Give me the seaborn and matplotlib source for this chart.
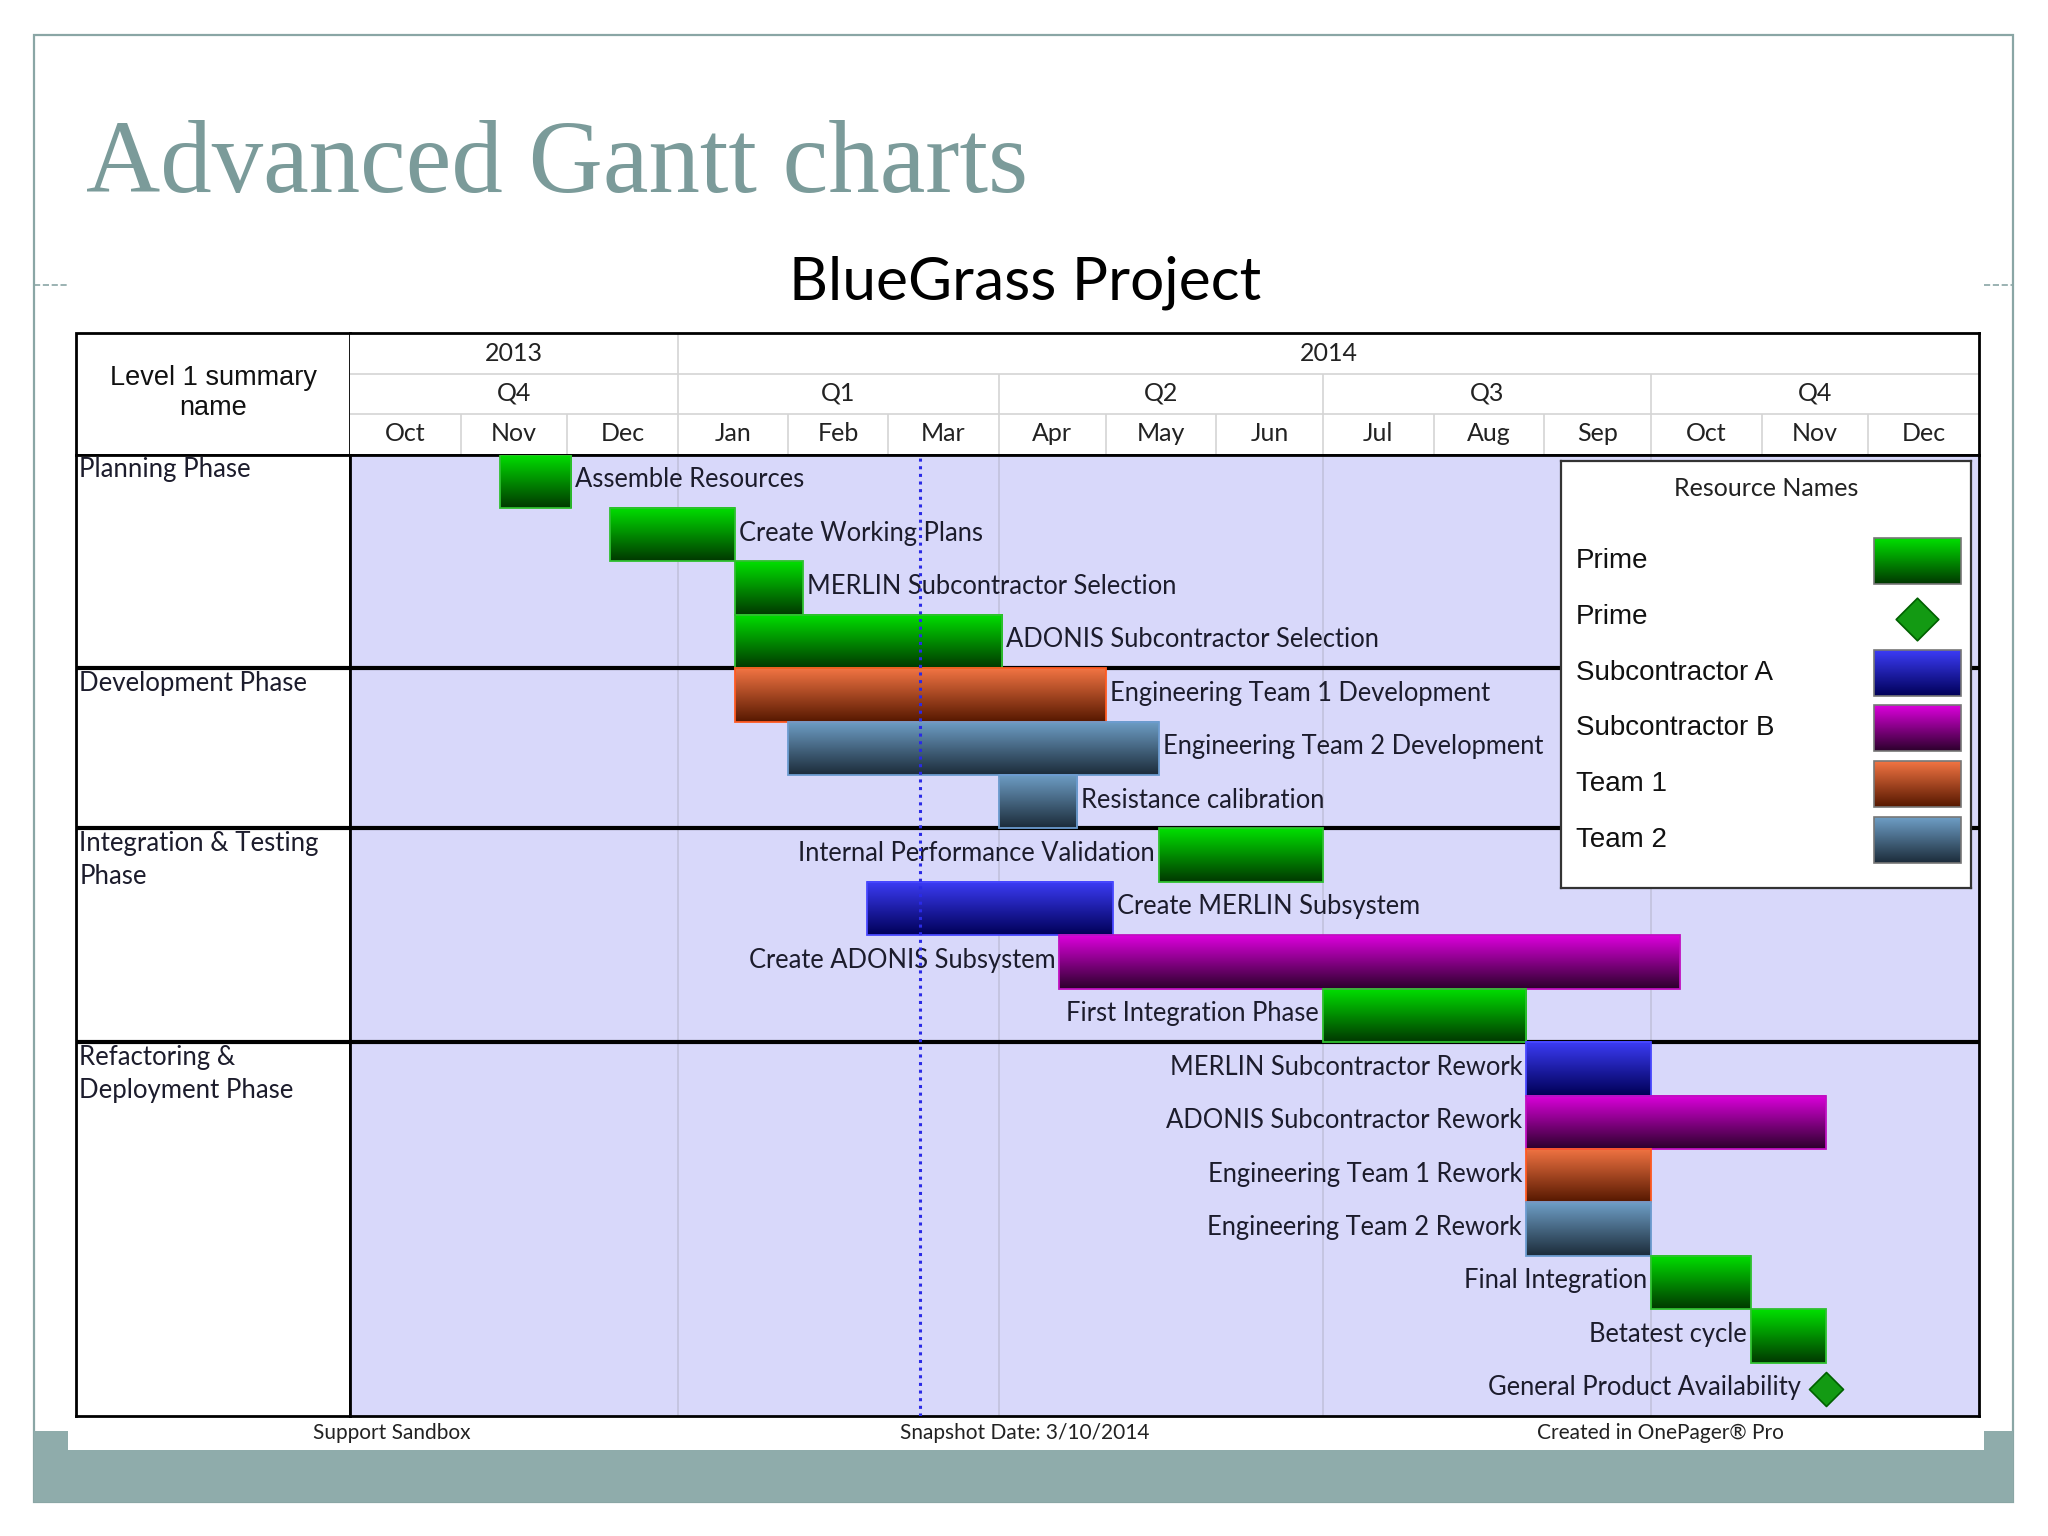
import numpy as np
import pandas as pd
import matplotlib
matplotlib.use("Agg")
import matplotlib.pyplot as plt
import matplotlib.dates as mdates
from matplotlib.colors import LinearSegmentedColormap
from matplotlib.patches import Rectangle
import seaborn as sns

# ---- chart data ----
tasks = [
    "Assemble Resources", "Create Working Plans", "MERLIN Subcontractor Selection",
    "ADONIS Subcontractor Selection", "Engineering Team 1 Development",
    "Engineering Team 2 Development", "Resistance calibration",
    "Internal Performance Validation", "Create MERLIN Subsystem", "Create ADONIS Subsystem",
    "First Integration Phase", "MERLIN Subcontractor Rework", "ADONIS Subcontractor Rework",
    "Engineering Team 1 Rework", "Engineering Team 2 Rework", "Final Integration",
    "Betatest cycle", "General Product Availability",
]
task_start = [
    "2013-11-12", "2013-12-13", "2014-01-17", "2014-01-17", "2014-01-17", "2014-02-01",
    "2014-04-01", "2014-05-16", "2014-02-23", "2014-04-18", "2014-07-01", "2014-08-27",
    "2014-08-27", "2014-08-27", "2014-08-27", "2014-10-01", "2014-10-29", "2014-11-19",
]
task_end = [
    "2013-12-02", "2014-01-17", "2014-02-05", "2014-04-02", "2014-05-01", "2014-05-16",
    "2014-04-23", "2014-07-01", "2014-05-03", "2014-10-09", "2014-08-27", "2014-10-01",
    "2014-11-19", "2014-10-01", "2014-10-01", "2014-10-29", "2014-11-19", "2014-11-19",
]
task_resource = [
    "Prime", "Prime", "Prime", "Prime", "Team 1", "Team 2", "Team 2", "Prime",
    "Subcontractor A", "Subcontractor B", "Prime", "Subcontractor A", "Subcontractor B",
    "Team 1", "Team 2", "Prime", "Prime", "Prime",
]
task_kind = ["bar"] * 17 + ["milestone"]
label_side = ["right"] * 7 + ["left", "right"] + ["left"] * 9

phases = ["Planning Phase", "Development Phase", "Integration & Testing\nPhase",
          "Refactoring &\nDeployment Phase"]
phase_first_row = [0, 4, 7, 11]

legend_names = ["Prime", "Prime", "Subcontractor A", "Subcontractor B", "Team 1", "Team 2"]
legend_marks = ["bar", "milestone", "bar", "bar", "bar", "bar"]

month_labels = ["Oct", "Nov", "Dec", "Jan", "Feb", "Mar", "Apr", "May", "Jun",
                "Jul", "Aug", "Sep", "Oct", "Nov", "Dec"]
quarter_labels = ["Q4", "Q1", "Q2", "Q3", "Q4"]
quarter_starts = ["2013-10-01", "2014-01-01", "2014-04-01", "2014-07-01", "2014-10-01"]
year_labels = ["2013", "2014"]
year_starts = ["2013-10-01", "2014-01-01"]
timeline_start = "2013-10-01"
timeline_end = "2015-01-01"
snapshot_date = "2014-03-10"

# ---- styling ----
sns.set_style("white")
plt.rcParams["font.family"] = ["Lato", "DejaVu Sans"]

# top colour, bottom colour, outline
resource_style = {
    "Prime": ("#00e000", "#003800", "#2fc02f"),
    "Subcontractor A": ("#3c3cf6", "#000058", "#4848ff"),
    "Subcontractor B": ("#dc00dc", "#2c002c", "#c010c0"),
    "Team 1": ("#f27443", "#561800", "#ff5a22"),
    "Team 2": ("#6e9ec6", "#1c2c3a", "#6c9cd0"),
}
milestone_colors = ("#139a13", "#006000")
text_col = "#1c1c2c"

W, H = 2048, 1536


def box(x0, y0, x1, y1):
    return [x0 / W, 1 - y1 / H, (x1 - x0) / W, (y1 - y0) / H]


def grad_fill(ax, x0, x1, y_top, y_bot, top, bot, z=3):
    cmap = LinearSegmentedColormap.from_list("g", [top, bot])
    g = np.linspace(0, 1, 128).reshape(-1, 1)
    ax.imshow(g, cmap=cmap, extent=(x0, x1, y_bot, y_top), origin="upper",
              aspect="auto", interpolation="bilinear", zorder=z)


fig = plt.figure(figsize=(20.48, 15.36), dpi=100)

# ---- slide background ----
bg = fig.add_axes([0, 0, 1, 1])
bg.set_xlim(0, W)
bg.set_ylim(H, 0)
bg.axis("off")
bg.add_patch(Rectangle((34, 35), 1979, 1467, fill=False, edgecolor="#8aa6a5", lw=1.6))
bg.add_patch(Rectangle((34, 1431), 1979, 71, facecolor="#8facab", edgecolor="none"))
bg.add_patch(Rectangle((68, 1410), 1916, 40, facecolor="white", edgecolor="none"))
bg.plot([34, 68], [285, 285], ls="--", color="#8aa6a5", lw=1.2)
bg.plot([1984, 2013], [285, 285], ls="--", color="#8aa6a5", lw=1.2)
bg.text(86, 192, "Advanced Gantt charts", family="Liberation Serif", fontsize=74,
        color="#7b9b9a", va="baseline", ha="left")
bg.text(1025, 299, "BlueGrass Project", fontsize=43.5, color="black", va="baseline",
        ha="center")
for txt, xc in zip(["Support Sandbox", "Snapshot Date: 3/10/2014", "Created in OnePager® Pro"],
                   [392, 1025, 1660]):
    bg.text(xc, 1433, txt, fontsize=15, color="#222222", ha="center", va="center")

# header corner cell
bg.add_patch(Rectangle((76, 333), 274, 121.5, facecolor="white", edgecolor="black", lw=2))
bg.text(213, 393, "Level 1 summary\nname", family="Liberation Sans", fontsize=19.5,
        ha="center", va="center", color="#111111", linespacing=1.2)

x_lo = mdates.datestr2num(timeline_start)
x_hi = mdates.datestr2num(timeline_end)
month_starts = pd.date_range(timeline_start, timeline_end, freq="MS")
month_nums = mdates.date2num(month_starts)
q_nums = list(mdates.datestr2num(quarter_starts)) + [x_hi]
y_nums = list(mdates.datestr2num(year_starts)) + [x_hi]

# ---- timeline header ----
hd = fig.add_axes(box(350, 333, 1979, 454.5))
hd.set_xlim(x_lo, x_hi)
hd.set_ylim(3, 0)
hd.set_xticks([])
hd.set_yticks([])
grid_c = "#d4d4d4"
hd.hlines([1, 2], x_lo, x_hi, color=grid_c, lw=1.2)
hd.vlines(month_nums[1:-1], 2, 3, color=grid_c, lw=1.2)
hd.vlines(q_nums[1:-1], 1, 2, color=grid_c, lw=1.2)
hd.vlines(y_nums[1:-1], 0, 1, color=grid_c, lw=1.2)
for i, lab in enumerate(month_labels):
    hd.text((month_nums[i] + month_nums[i + 1]) / 2, 2.47, lab, ha="center", va="center",
            fontsize=18, color="#222222")
for i, lab in enumerate(quarter_labels):
    hd.text((q_nums[i] + q_nums[i + 1]) / 2, 1.47, lab, ha="center", va="center",
            fontsize=18, color="#222222")
for i, lab in enumerate(year_labels):
    hd.text((y_nums[i] + y_nums[i + 1]) / 2, 0.5, lab, ha="center", va="center",
            fontsize=18, color="#222222")
for s in hd.spines.values():
    s.set_color("black")
    s.set_linewidth(2)
hd.spines["left"].set_visible(False)

# ---- left summary column ----
n_rows = len(tasks)
lc = fig.add_axes(box(76, 454.5, 350, 1416))
lc.set_xlim(0, 1)
lc.set_ylim(n_rows, 0)
lc.set_xticks([])
lc.set_yticks([])
lc.set_facecolor("white")
for name, r in zip(phases, phase_first_row):
    lc.text(0.012, r + 0.05, name, ha="left", va="top", fontsize=18.5, color=text_col,
            linespacing=1.42)
for r in phase_first_row[1:]:
    lc.axhline(r, color="black", lw=3)
for s in lc.spines.values():
    s.set_color("black")
    s.set_linewidth(2)

# ---- gantt body ----
ax = fig.add_axes(box(350, 454.5, 1979, 1416))
ax.set_facecolor("#d8d8fa")
ax.vlines(q_nums[1:-1], 0, n_rows, color="#c2c2dc", lw=1.2, zorder=1)
for r in phase_first_row[1:]:
    ax.axhline(r, color="black", lw=3, zorder=2)

starts = mdates.datestr2num(task_start)
ends = mdates.datestr2num(task_end)
gantt = pd.DataFrame({"task": tasks, "start": starts, "end": ends, "res": task_resource,
                      "kind": task_kind, "side": label_side, "row": np.arange(n_rows) + 0.5})

bars = gantt[gantt["kind"] == "bar"]
for _, t in bars.iterrows():
    top, bot, edge = resource_style[t["res"]]
    grad_fill(ax, t["start"], t["end"], t["row"] - 0.5, t["row"] + 0.5, top, bot)
    ax.barh(t["row"], t["end"] - t["start"], left=t["start"], height=1.0, fill=False,
            edgecolor=edge, lw=1.3, zorder=4)

ms = gantt[gantt["kind"] == "milestone"]
sns.scatterplot(data=ms, x="start", y="row", marker="D", s=300, color=milestone_colors[0],
                edgecolor=milestone_colors[1], linewidth=1.2, zorder=6, ax=ax, legend=False)

for _, t in gantt.iterrows():
    if t["kind"] == "milestone":
        x, off, ha = t["start"], -18, "right"
    elif t["side"] == "right":
        x, off, ha = t["end"], 3, "left"
    else:
        x, off, ha = t["start"], -3, "right"
    ax.annotate(t["task"], (x, t["row"] - 0.03), xytext=(off, 0), textcoords="offset points",
                ha=ha, va="center", fontsize=18.4, color=text_col, zorder=7)

ax.axvline(mdates.datestr2num(snapshot_date), color="#2a2ae6", ls=(0, (1, 1.5)), lw=2.2,
           zorder=8)
ax.set_xlim(x_lo, x_hi)
ax.set_ylim(n_rows, 0)
ax.set_xticks([])
ax.set_yticks([])
ax.set_xlabel("")
ax.set_ylabel("")
for s in ax.spines.values():
    s.set_color("black")
    s.set_linewidth(2)

# ---- legend box ----
lg = fig.add_axes(box(1561, 461, 1971, 888))
lg.set_xlim(0, 410)
lg.set_ylim(427, 0)
lg.set_xticks([])
lg.set_yticks([])
lg.set_facecolor("white")
for s in lg.spines.values():
    s.set_color("#333333")
    s.set_linewidth(1.6)
lg.text(205, 28, "Resource Names", ha="center", va="center", fontsize=18, color="#222222")
for i, (name, mark) in enumerate(zip(legend_names, legend_marks)):
    yc = 100 + i * 55.8
    lg.text(15, yc, name, ha="left", va="center", family="Liberation Sans", fontsize=20,
            color="#111111")
    if mark == "bar":
        top, bot, edge = resource_style[name]
        grad_fill(lg, 313, 400, yc - 23, yc + 23, top, bot)
        lg.add_patch(Rectangle((313, yc - 23), 87, 46, fill=False, edgecolor="#777777",
                               lw=1.2, zorder=4))
    else:
        lg.scatter([356], [yc + 2], marker="D", s=470, color=milestone_colors[0],
                   edgecolor=milestone_colors[1], linewidth=1.2, zorder=5)
lg.set_xlim(0, 410)
lg.set_ylim(427, 0)

fig.savefig("out.png", dpi=100)
